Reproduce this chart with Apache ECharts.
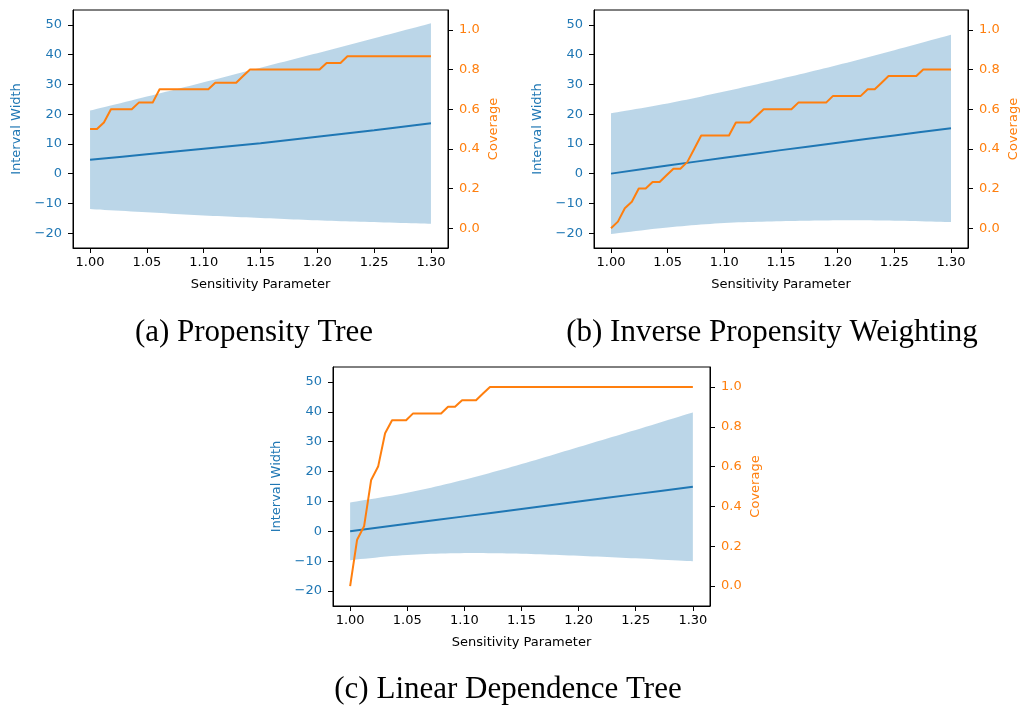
<!DOCTYPE html>
<html>
<head>
<meta charset="utf-8">
<title>Interval Width and Coverage vs Sensitivity Parameter</title>
<script src="https://cdn.jsdelivr.net/npm/echarts@6/dist/echarts.min.js"></script>
<style>
  html, body { margin: 0; padding: 0; background: #ffffff; }
  #chart { width: 1021px; height: 711px; }
</style>
</head>
<body>
<div id="chart"></div>
<script>
// Sensitivity grid on which coverage was evaluated (50 points from 1.00 to 1.30)
const sensitivity = [
  1.0000, 1.0061, 1.0122, 1.0184, 1.0245, 1.0306, 1.0367, 1.0429, 1.0490, 1.0551,
  1.0612, 1.0673, 1.0735, 1.0796, 1.0857, 1.0918, 1.0980, 1.1041, 1.1102, 1.1163,
  1.1224, 1.1286, 1.1347, 1.1408, 1.1469, 1.1531, 1.1592, 1.1653, 1.1714, 1.1776,
  1.1837, 1.1898, 1.1959, 1.2020, 1.2082, 1.2143, 1.2204, 1.2265, 1.2327, 1.2388,
  1.2449, 1.2510, 1.2571, 1.2633, 1.2694, 1.2755, 1.2816, 1.2878, 1.2939, 1.3000
];

// Coverage per method
const coverageTree = [
  0.5, 0.5, 0.533, 0.6, 0.6, 0.6, 0.6, 0.633, 0.633, 0.633,
  0.7, 0.7, 0.7, 0.7, 0.7, 0.7, 0.7, 0.7, 0.733, 0.733,
  0.733, 0.733, 0.767, 0.8, 0.8, 0.8, 0.8, 0.8, 0.8, 0.8,
  0.8, 0.8, 0.8, 0.8, 0.833, 0.833, 0.833, 0.867, 0.867, 0.867,
  0.867, 0.867, 0.867, 0.867, 0.867, 0.867, 0.867, 0.867, 0.867, 0.867
];
const coverageIPW = [
  0.0, 0.033, 0.1, 0.133, 0.2, 0.2, 0.233, 0.233, 0.267, 0.3,
  0.3, 0.333, 0.4, 0.467, 0.467, 0.467, 0.467, 0.467, 0.533, 0.533,
  0.533, 0.567, 0.6, 0.6, 0.6, 0.6, 0.6, 0.633, 0.633, 0.633,
  0.633, 0.633, 0.667, 0.667, 0.667, 0.667, 0.667, 0.7, 0.7, 0.733,
  0.767, 0.767, 0.767, 0.767, 0.767, 0.8, 0.8, 0.8, 0.8, 0.8
];
const coverageLinear = [
  0.0, 0.233, 0.3, 0.533, 0.6, 0.767, 0.833, 0.833, 0.833, 0.867,
  0.867, 0.867, 0.867, 0.867, 0.9, 0.9, 0.933, 0.933, 0.933, 0.967,
  1.0, 1.0, 1.0, 1.0, 1.0, 1.0, 1.0, 1.0, 1.0, 1.0,
  1.0, 1.0, 1.0, 1.0, 1.0, 1.0, 1.0, 1.0, 1.0, 1.0,
  1.0, 1.0, 1.0, 1.0, 1.0, 1.0, 1.0, 1.0, 1.0, 1.0
];

// Interval width: centre line and band, sampled every 0.05
const bandSensitivity = [1.00, 1.05, 1.10, 1.15, 1.20, 1.25, 1.30];

const meanTree  = [4.65, 6.5, 8.35, 10.2, 12.4, 14.6, 16.9];
const lowerTree = [-11.9, -13.0, -14.05, -14.9, -15.7, -16.3, -16.85];
const upperTree = [21.2, 25.9, 30.7, 35.6, 40.5, 45.5, 50.55];

const meanIPW  = [0.0, 2.7, 5.35, 7.9, 10.4, 12.85, 15.25];
const lowerIPW = [-20.3, -18.1, -16.6, -16.0, -15.7, -15.8, -16.3];
const upperIPW = [20.3, 23.6, 27.6, 31.9, 36.5, 41.5, 46.7];

const meanLinear  = [0.0, 2.5, 5.0, 7.5, 10.0, 12.45, 14.9];
const lowerLinear = [-9.65, -7.9, -7.3, -7.5, -8.2, -9.05, -10.0];
const upperLinear = [9.65, 12.9, 17.3, 22.5, 28.2, 33.95, 39.8];

// Tick labels
const xTicks = [1.00, 1.05, 1.10, 1.15, 1.20, 1.25, 1.30];
const widthTicks = [-20, -10, 0, 10, 20, 30, 40, 50];
const coverageTicks = [0.0, 0.2, 0.4, 0.6, 0.8, 1.0];

const captions = [
  '(a) Propensity Tree',
  '(b) Inverse Propensity Weighting',
  '(c) Linear Dependence Tree'
];

// Styling
const BLUE = '#1f77b4';
const ORANGE = '#ff7f0e';
const BAND = 'rgba(31,119,180,0.3)';
const SANS = '"DejaVu Sans", sans-serif';
const SERIF = '"Liberation Serif", "DejaVu Serif", serif';

const panels = [
  { grid: { left: 73, top: 10, width: 375, height: 238 },
    mean: meanTree, lower: lowerTree, upper: upperTree, coverage: coverageTree,
    caption: { x: 254, y: 333 } },
  { grid: { left: 594, top: 10, width: 376, height: 238 },
    mean: meanIPW, lower: lowerIPW, upper: upperIPW, coverage: coverageIPW,
    caption: { x: 772, y: 333 } },
  { grid: { left: 333, top: 367, width: 377, height: 239 },
    mean: meanLinear, lower: lowerLinear, upper: upperLinear, coverage: coverageLinear,
    caption: { x: 508, y: 689.5 } }
];

const zip = (xs, ys) => xs.map((x, i) => [x, ys[i]]);
const minusFmt = v => (v < 0 ? '\u2212' + Math.abs(v) : String(v));

// Smooth a pixel polyline with Catmull-Rom cubic segments (for the band outline)
function smoothPixels(pts, steps) {
  const out = [pts[0]];
  for (let i = 0; i < pts.length - 1; i++) {
    const p0 = pts[i - 1] || pts[i], p1 = pts[i], p2 = pts[i + 1], p3 = pts[i + 2] || pts[i + 1];
    const c1 = [p1[0] + (p2[0] - p0[0]) / 6, p1[1] + (p2[1] - p0[1]) / 6];
    const c2 = [p2[0] - (p3[0] - p1[0]) / 6, p2[1] - (p3[1] - p1[1]) / 6];
    for (let s = 1; s <= steps; s++) {
      const t = s / steps, u = 1 - t;
      const a = u * u * u, b = 3 * u * u * t, c = 3 * u * t * t, d = t * t * t;
      out.push([
        a * p1[0] + b * c1[0] + c * c2[0] + d * p2[0],
        a * p1[1] + b * c1[1] + c * c2[1] + d * p2[1]
      ]);
    }
  }
  return out;
}

// Shaded band between lower and upper, drawn as one polygon in axis coordinates
function renderBand(params, api) {
  if (params.dataIndexInside !== 0) return null;
  const n = params.dataInsideLength;
  const top = [], bottom = [];
  for (let i = 0; i < n; i++) {
    const x = api.value(0, i);
    top.push(api.coord([x, api.value(2, i)]));
    bottom.push(api.coord([x, api.value(1, i)]));
  }
  const points = smoothPixels(top, 12).concat(smoothPixels(bottom, 12).reverse());
  return {
    type: 'polygon',
    shape: { points: points },
    style: { fill: BAND, stroke: null }
  };
}

const grids = [], xAxes = [], yAxes = [], series = [], graphics = [];

const tickCommon = { show: true, inside: false, length: 5, lineStyle: { color: '#000', width: 1 } };

panels.forEach((p, k) => {
  grids.push(Object.assign({
    show: true, borderColor: '#000', borderWidth: 1, backgroundColor: 'transparent'
  }, p.grid));

  xAxes.push({
    type: 'value', gridIndex: k, min: 0.985, max: 1.315,
    name: 'Sensitivity Parameter', nameLocation: 'middle', nameGap: 30,
    nameTextStyle: { color: '#000', fontFamily: SANS, fontSize: 13 },
    axisLine: { show: true, onZero: false, lineStyle: { color: '#000', width: 1 } },
    axisTick: Object.assign({ customValues: xTicks }, tickCommon),
    axisLabel: { customValues: xTicks, formatter: v => v.toFixed(2),
      color: '#000', fontFamily: SANS, fontSize: 13, margin: 8 },
    splitLine: { show: false }
  });

  yAxes.push({
    type: 'value', gridIndex: k, position: 'left', min: -25, max: 55,
    name: 'Interval Width', nameLocation: 'middle', nameGap: 50, nameRotate: 90,
    nameTextStyle: { color: BLUE, fontFamily: SANS, fontSize: 13 },
    axisLine: { show: true, onZero: false, lineStyle: { color: '#000', width: 1 } },
    axisTick: Object.assign({ customValues: widthTicks }, tickCommon),
    axisLabel: { customValues: widthTicks, formatter: minusFmt,
      color: BLUE, fontFamily: SANS, fontSize: 13, margin: 11 },
    splitLine: { show: false }
  });

  yAxes.push({
    type: 'value', gridIndex: k, position: 'right', min: -0.1, max: 1.1,
    name: 'Coverage', nameLocation: 'middle', nameGap: 39, nameRotate: 90,
    nameTextStyle: { color: ORANGE, fontFamily: SANS, fontSize: 13 },
    axisLine: { show: true, onZero: false, lineStyle: { color: '#000', width: 1 } },
    axisTick: Object.assign({ customValues: coverageTicks }, tickCommon),
    axisLabel: { customValues: coverageTicks, formatter: v => v.toFixed(1),
      color: ORANGE, fontFamily: SANS, fontSize: 13, margin: 11 },
    splitLine: { show: false }
  });

  const yLeft = 2 * k, yRight = 2 * k + 1;

  series.push({
    type: 'custom', xAxisIndex: k, yAxisIndex: yLeft,
    data: bandSensitivity.map((x, i) => [x, p.lower[i], p.upper[i]]),
    encode: { x: 0, y: [1, 2] },
    renderItem: renderBand, silent: true, z: 1
  });

  // centre line
  series.push({
    type: 'line', xAxisIndex: k, yAxisIndex: yLeft,
    data: zip(bandSensitivity, p.mean), smooth: 0.3, showSymbol: false,
    lineStyle: { color: BLUE, width: 2 }, z: 3
  });

  // coverage line
  series.push({
    type: 'line', xAxisIndex: k, yAxisIndex: yRight,
    data: zip(sensitivity, p.coverage), showSymbol: false,
    lineStyle: { color: ORANGE, width: 2, join: 'round' }, z: 4
  });

  graphics.push({
    type: 'text', x: p.caption.x, y: p.caption.y, silent: true,
    style: { text: captions[k], fill: '#000', font: '31px ' + SERIF,
      align: 'center', verticalAlign: 'middle' }
  });
});

const chart = echarts.init(document.getElementById('chart'), null, { renderer: 'canvas' });
chart.setOption({
  animation: false,
  backgroundColor: '#ffffff',
  grid: grids,
  xAxis: xAxes,
  yAxis: yAxes,
  series: series,
  graphic: graphics
});
</script>
</body>
</html>
